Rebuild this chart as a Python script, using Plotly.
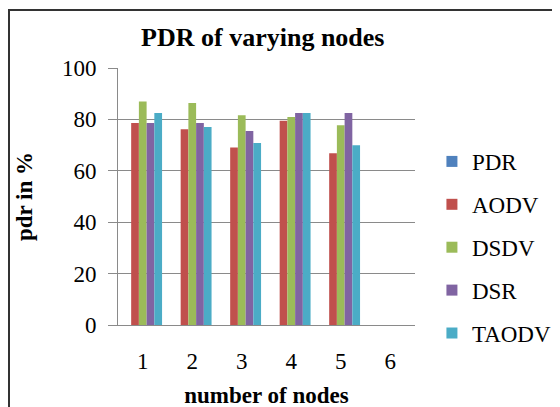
import plotly.graph_objects as go

categories = ["1", "2", "3", "4", "5", "6"]
pdr = [0, 0, 0, 0, 0, None]
aodv = [78.6, 76.2, 69.1, 79.5, 66.8, None]
dsdv = [87.0, 86.4, 81.6, 80.9, 77.7, None]
dsr = [78.6, 78.6, 75.5, 82.5, 82.5, None]
taodv = [82.5, 77.0, 70.8, 82.5, 69.9, None]
y_ticks = [0, 20, 40, 60, 80, 100]

series = [
    ("PDR", pdr, "#4F81BD"),
    ("AODV", aodv, "#C0504D"),
    ("DSDV", dsdv, "#9BBB59"),
    ("DSR", dsr, "#8064A2"),
    ("TAODV", taodv, "#4BACC6"),
]

serif = "Liberation Serif, Times New Roman, serif"

fig = go.Figure()
for name, vals, col in series:
    fig.add_trace(go.Bar(x=categories, y=vals, name=name, marker_color=col,
                         marker_line_width=0, showlegend=False))
# legend entries with small square keys
for name, vals, col in series:
    fig.add_trace(go.Scatter(x=[None], y=[None], mode="markers", name=name,
                             marker=dict(symbol="square", size=11, color=col),
                             legendgroup=name, showlegend=True))

fig.update_layout(
    width=560, height=407,
    paper_bgcolor="white", plot_bgcolor="white",
    margin=dict(l=110, r=153, t=60, b=90, autoexpand=False),
    barmode="group", bargap=0.22, bargroupgap=0,
    title=dict(text="<b>PDR of varying nodes</b>", x=0.455, xanchor="center",
               y=0.929, yanchor="middle",
               font=dict(family=serif, size=26, color="black")),
    font=dict(family=serif, color="black"),
    legend=dict(x=1.057, xanchor="left", xref="paper", y=0.72, yanchor="top",
                font=dict(family=serif, size=23, color="black"),
                tracegroupgap=10, itemwidth=30, bgcolor="rgba(0,0,0,0)"),
    showlegend=True,
)
fig.update_yaxes(range=[0, 100], tickvals=y_ticks, automargin=False,
                 showgrid=True, gridcolor="#8a8a8a", gridwidth=1,
                 showline=True, linecolor="#8a8a8a", linewidth=1,
                 ticks="outside", ticklen=9, tickcolor="#8a8a8a",
                 ticklabelstandoff=7,
                 tickfont=dict(family=serif, size=23, color="black"),
                 title=dict(text="<b>pdr in %</b>", font=dict(family=serif, size=23, color="black"), standoff=22),
                 zeroline=False)
fig.update_xaxes(showline=True, linecolor="#8a8a8a", linewidth=1, automargin=False,
                 tickfont=dict(family=serif, size=23, color="black"),
                 ticks="", ticklabelstandoff=15,
                 title=dict(text="<b>number of nodes</b>", font=dict(family=serif, size=23, color="black"), standoff=14))

fig.add_shape(type="rect", xref="paper", yref="paper",
              x0=-0.367, x1=1.7, y0=-0.5, y1=1.2257,
              line=dict(color="#333333", width=2), fillcolor="rgba(0,0,0,0)", layer="below")

fig.write_html("out.html")
